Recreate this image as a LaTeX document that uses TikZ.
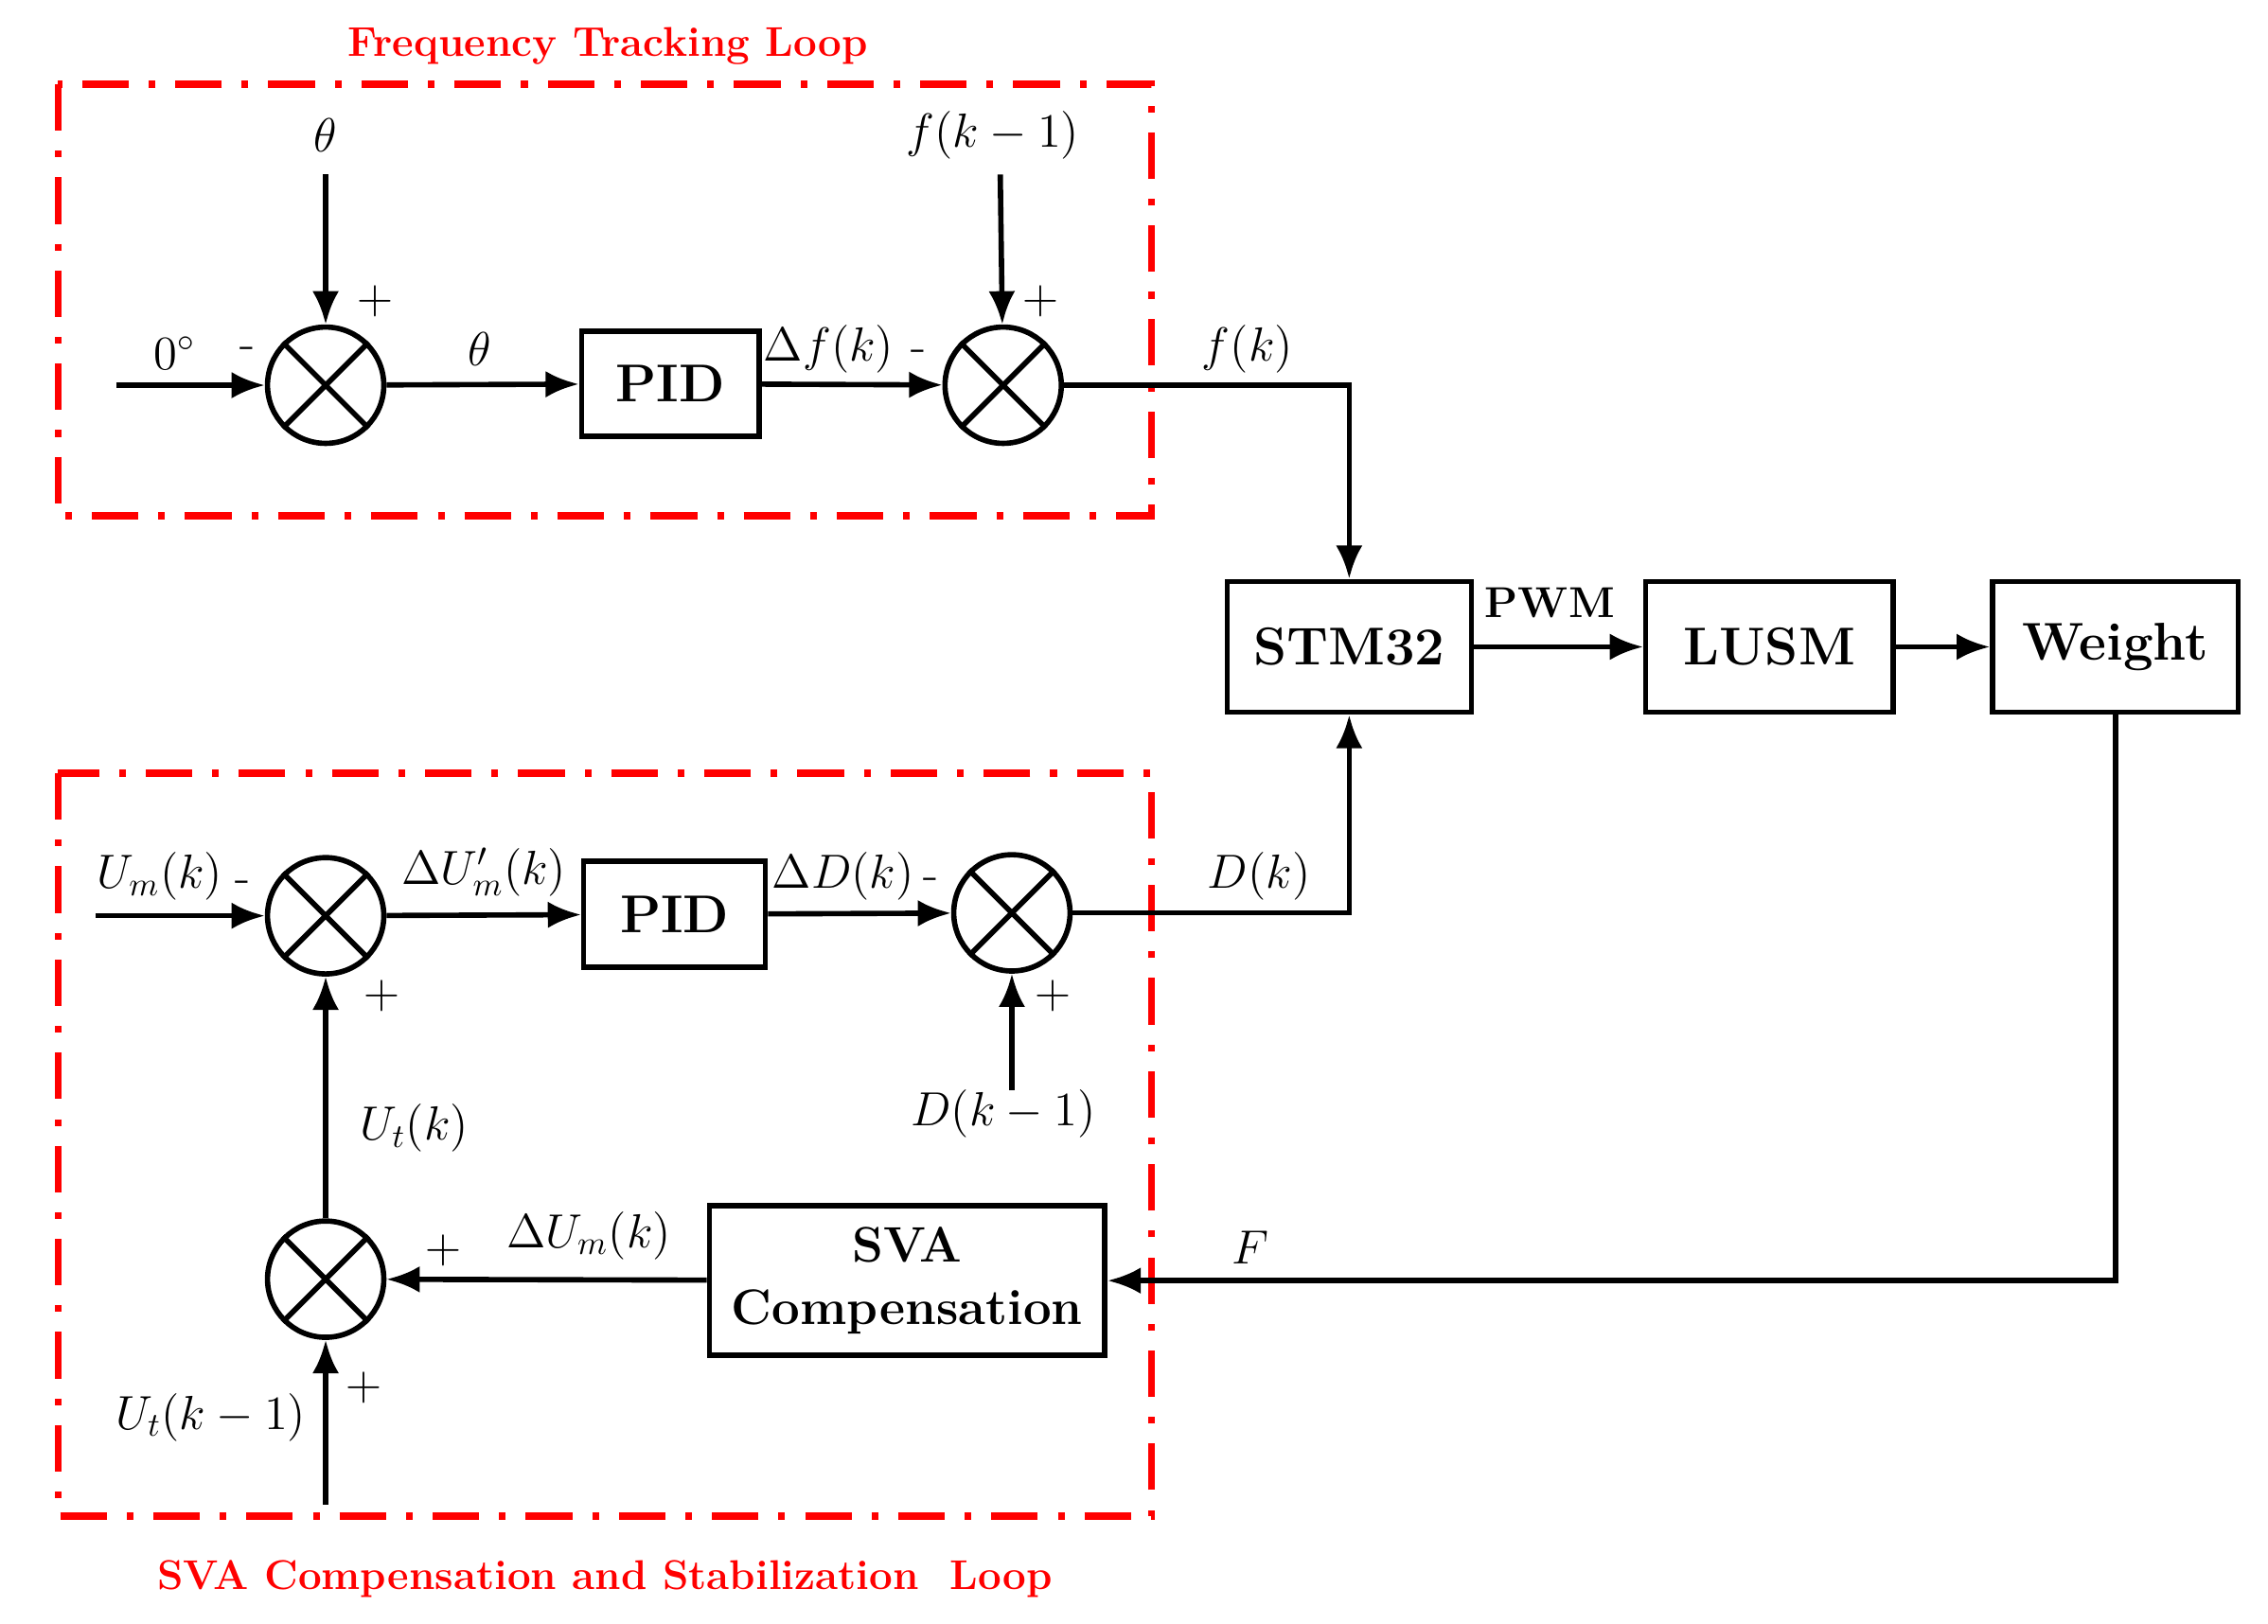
\documentclass[tikz,border=0pt]{standalone}
\usetikzlibrary{arrows.meta}
\begin{document}
\begin{tikzpicture}[x=0.01536cm,y=-0.01536cm,
  blk/.style={draw,line width=1.6pt,font=\bfseries\fontsize{16}{18}\selectfont,inner sep=0pt},
  sum/.style={draw,circle,line width=1.6pt,minimum size=80*0.01536cm,inner sep=0pt},
  loop/.style={draw=red,line width=2.2pt,dash pattern=on 14pt off 6pt on 2pt off 6pt},
  ttl/.style={red,font=\bfseries\fontsize{12.5}{14}\selectfont},
  lbl/.style={font=\fontsize{14}{16}\selectfont},
  sgn/.style={font=\fontsize{15}{17}\selectfont},
  con/.style={line width=1.6pt,-{Latex[length=10pt,width=8pt]}}]
  \useasboundingbox (0,0) rectangle (1560,1117);
  \def\cross#1{\draw[line width=1.6pt] (#1.north west) -- (#1.south east) (#1.north east) -- (#1.south west);}

  % loops
  \draw[loop] (40,58) rectangle (792,355);
  \draw[loop] (40,532) rectangle (792,1043);
  \node[ttl] at (418,32) {Frequency Tracking Loop};
  \node[ttl] at (416,1086) {SVA Compensation and Stabilization\ \ Loop};

  % blocks
  \node[sum] (s1) at (224,265) {}; \cross{s1}
  \node[sum] (s2) at (690,265) {}; \cross{s2}
  \node[sum] (s3) at (224,630) {}; \cross{s3}
  \node[sum] (s4) at (696,628) {}; \cross{s4}
  \node[sum] (s5) at (224,880) {}; \cross{s5}
  \node[blk,minimum width=122*0.01536cm,minimum height=72*0.01536cm] (pid1) at (461,264) {PID};
  \node[blk,minimum width=125*0.01536cm,minimum height=73*0.01536cm] (pid2) at (464,629) {PID};
  \node[blk,minimum width=168*0.01536cm,minimum height=90*0.01536cm] (stm) at (928,445) {STM32};
  \node[blk,minimum width=170*0.01536cm,minimum height=90*0.01536cm] (lusm) at (1217,445) {LUSM};
  \node[blk,minimum width=169*0.01536cm,minimum height=90*0.01536cm] (wt) at (1455,445) {Weight};
  \node[blk,font=\bfseries\fontsize{15}{17}\selectfont,minimum width=272*0.01536cm,minimum height=103*0.01536cm,align=center] (sva) at (624,881) {SVA\\[2pt]Compensation};

  % free ends
  \coordinate (in1) at (80,265);
  \coordinate (th) at (224,120);
  \coordinate (fk1) at (688,120);
  \coordinate (in3) at (66,630);
  \coordinate (dk1) at (696,750);
  \coordinate (ut1) at (224,1035);

  % connectors
  \draw[con] (in1) -- (s1);
  \draw[con] (th) -- (s1);
  \draw[con] (s1) -- (pid1);
  \draw[con] (pid1) -- (s2);
  \draw[con] (fk1) -- (s2);
  \draw[con] (s2) -| (stm);
  \draw[con] (stm) -- (lusm);
  \draw[con] (lusm) -- (wt);
  \draw[con] (wt.south) |- (sva);
  \draw[con] (sva) -- (s5);
  \draw[con] (s5) -- (s3);
  \draw[con] (ut1) -- (s5);
  \draw[con] (in3) -- (s3);
  \draw[con] (s3) -- (pid2);
  \draw[con] (pid2) -- (s4);
  \draw[con] (dk1) -- (s4);
  \draw[con] (s4) -| (stm);

  % labels
  \node[lbl] at (120,243) {$0^\circ$};
  \node[sgn] at (170,243) {-};
  \node[lbl] at (224,93) {$\theta$};
  \node[sgn] at (258,207) {+};
  \node[lbl] at (330,240) {$\theta$};
  \node[lbl] at (570,240) {$\Delta f(k)$};
  \node[sgn] at (632,245) {-};
  \node[lbl] at (683,93) {$f(k-1)$};
  \node[sgn] at (716,207) {+};
  \node[lbl] at (858,240) {$f(k)$};
  \node[font=\bfseries\fontsize{13}{15}\selectfont] at (1066,415) {PWM};
  \node[lbl] at (860,858) {$F$};
  \node[lbl] at (110,603) {$U_m(k)$};
  \node[sgn] at (167,610) {-};
  \node[lbl] at (333,600) {$\Delta U'_m(k)$};
  \node[lbl] at (580,603) {$\Delta D(k)$};
  \node[sgn] at (640,608) {-};
  \node[lbl] at (866,603) {$D(k)$};
  \node[sgn] at (724,685) {+};
  \node[lbl] at (690,766) {$D(k-1)$};
  \node[sgn] at (263,685) {+};
  \node[lbl] at (285,776) {$U_t(k)$};
  \node[lbl] at (405,850) {$\Delta U_m(k)$};
  \node[sgn] at (305,860) {+};
  \node[lbl] at (145,975) {$U_t(k-1)$};
  \node[sgn] at (250,955) {+};
\end{tikzpicture}
\end{document}
